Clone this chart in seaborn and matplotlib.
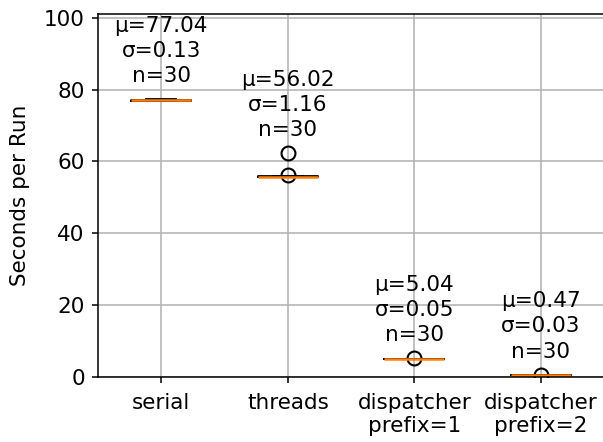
import numpy as np
import pandas as pd
import seaborn as sns
import matplotlib.pyplot as plt

# =============================================================================
# Data (seconds per run, 30 runs per implementation)
# =============================================================================
IMPLS = ['serial', 'threads', 'dispatcher\nprefix=1', 'dispatcher\nprefix=2']

serial = [76.80, 76.82, 76.84, 76.86, 76.88, 76.90, 76.92, 76.94, 76.96, 76.98,
          77.00, 77.01, 77.02, 77.03, 77.04, 77.05, 77.06, 77.07, 77.08, 77.10,
          77.12, 77.14, 77.16, 77.18, 77.20, 77.22, 77.24, 77.27, 77.31, 77.36]
threads = [55.78, 55.81, 55.80, 55.83, 55.79, 55.82, 55.77, 55.80, 55.84, 55.79,
           55.81, 55.78, 55.82, 55.80, 55.76, 55.83, 55.79, 55.81, 55.80, 55.78,
           55.82, 55.80, 55.79, 55.85, 55.81, 55.77, 55.80, 55.83, 56.12, 62.30]
disp_p1 = [5.02, 5.04, 5.03, 5.05, 5.01, 5.04, 5.03, 5.06, 5.02, 5.04,
           5.03, 5.05, 5.04, 5.02, 5.03, 5.07, 5.04, 5.03, 5.05, 5.02,
           5.04, 5.03, 5.06, 5.04, 5.03, 5.02, 5.05, 5.04, 5.03, 5.22]
disp_p2 = [0.46, 0.47, 0.46, 0.48, 0.47, 0.45, 0.47, 0.46, 0.48, 0.47,
           0.46, 0.47, 0.45, 0.48, 0.47, 0.46, 0.47, 0.48, 0.46, 0.47,
           0.45, 0.47, 0.46, 0.48, 0.47, 0.46, 0.47, 0.48, 0.46, 0.70]

# stats printed above each box
MU = ['77.04', '56.02', '5.04', '0.47']
SIGMA = ['0.13', '1.16', '0.05', '0.03']
N_RUNS = ['30', '30', '30', '30']

runs = [serial, threads, disp_p1, disp_p2]
df = pd.DataFrame({
    'impl': np.repeat(IMPLS, [len(r) for r in runs]),
    'sec': np.concatenate(runs),
})

# =============================================================================
# Plot
# =============================================================================
plt.rcParams['font.size'] = 15.5
fig, ax = plt.subplots(figsize=(6.03, 4.42), dpi=100)
fig.subplots_adjust(left=0.1625, right=1.002, top=0.968, bottom=0.147)

sns.boxplot(
    data=df, x='impl', y='sec', order=IMPLS, ax=ax,
    width=0.475, fill=False, color='black', linewidth=1.3,
    medianprops={'color': '#ff7f0e', 'linewidth': 1.8},
    flierprops={'marker': 'o', 'markerfacecolor': 'none',
                'markeredgecolor': 'black', 'markersize': 10,
                'markeredgewidth': 1.5},
)

for i, r in enumerate(runs):
    ax.text(i, max(r) + 3.6, f"μ={MU[i]}\nσ={SIGMA[i]}\nn={N_RUNS[i]}",
            ha='center', va='bottom', fontsize=15.5, linespacing=1.33)

ax.set_ylim(0, 101)
ax.set_xlim(-0.5, 3.5)
ax.set_yticks([0, 20, 40, 60, 80, 100])
ax.set_xlabel('')
ax.set_ylabel('Seconds per Run', labelpad=10)
ax.tick_params(length=4.5, width=1.1)
ax.tick_params(axis='y', pad=5)
ax.tick_params(axis='x', pad=7)
for s in ax.spines.values():
    s.set_linewidth(1.1)
ax.grid(True, color='#b0b0b0', linewidth=1.1)
ax.set_axisbelow(True)

plt.savefig('out.png', dpi=100)
plt.close()
